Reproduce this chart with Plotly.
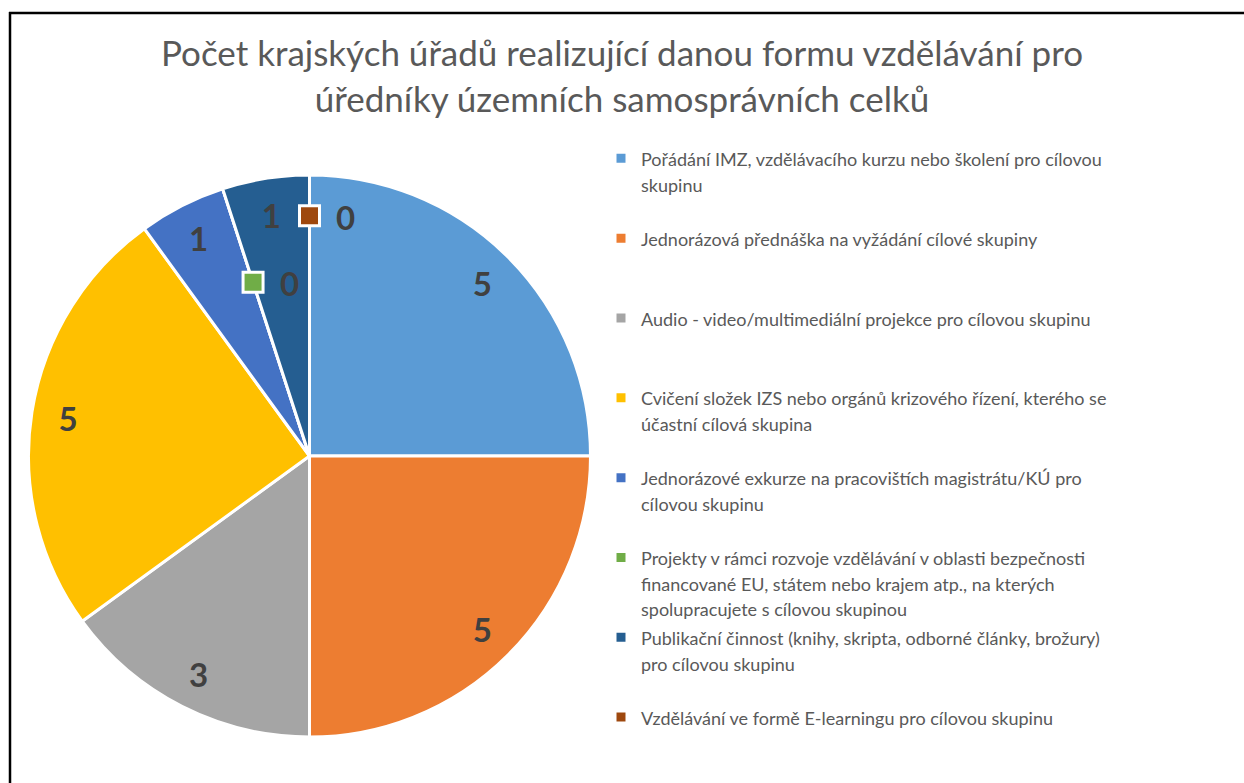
import math
import plotly.graph_objects as go

# ---------------- data ----------------
categories = [
    "Pořádání IMZ, vzdělávacího kurzu nebo školení pro cílovou skupinu",
    "Jednorázová přednáška na vyžádání cílové skupiny",
    "Audio - video/multimediální projekce pro cílovou skupinu",
    "Cvičení složek IZS nebo orgánů krizového řízení, kterého se účastní cílová skupina",
    "Jednorázové exkurze na pracovištích magistrátu/KÚ pro cílovou skupinu",
    "Projekty v rámci rozvoje vzdělávání v oblasti bezpečnosti financované EU, státem nebo krajem atp., na kterých spolupracujete s cílovou skupinou",
    "Publikační činnost (knihy, skripta, odborné články, brožury) pro cílovou skupinu",
    "Vzdělávání ve formě E-learningu pro cílovou skupinu",
]
legend_lines = [
    ["Pořádání IMZ, vzdělávacího kurzu nebo školení pro cílovou", "skupinu"],
    ["Jednorázová přednáška na vyžádání cílové skupiny"],
    ["Audio - video/multimediální projekce pro cílovou skupinu"],
    ["Cvičení složek IZS nebo orgánů krizového řízení, kterého se", "účastní cílová skupina"],
    ["Jednorázové exkurze na pracovištích magistrátu/KÚ pro", "cílovou skupinu"],
    ["Projekty v rámci rozvoje vzdělávání v oblasti bezpečnosti",
     "financované EU, státem nebo krajem atp., na kterých",
     "spolupracujete s cílovou skupinou"],
    ["Publikační činnost (knihy, skripta, odborné články, brožury)", "pro cílovou skupinu"],
    ["Vzdělávání ve formě E-learningu pro cílovou skupinu"],
]
values = [5, 5, 3, 5, 1, 0, 1, 0]
title_text = "Počet krajských úřadů realizující danou formu vzdělávání pro<br>úředníky územních samosprávních celků"

# ---------------- style ----------------
colors = ["#5B9BD5", "#ED7D31", "#A5A5A5", "#FFC000", "#4472C4", "#70AD47", "#255E91", "#9E480E"]
W, H = 1244, 783


def px_x(x):   # window pixel -> paper
    return x / W


def px_y(y):
    return 1 - y / H


PIE_CX, PIE_CY, PIE_R = 309.5, 456, 281   # window-pixel layout of the pie
FONT = "Lato, 'Open Sans', sans-serif"
TEXT_GRAY = "#595959"
LABEL_GRAY = "#404040"
LEGEND_LINES_PER_ITEM = 3
LEGEND_TEXT_SIZE = 18
zero_label_radius = {5: 0.65, 7: 0.855}   # radial placement of labels for empty slices

legend_labels = []
for k, lines in enumerate(legend_lines):
    n_pad = 0 if k == len(legend_lines) - 1 else LEGEND_LINES_PER_ITEM - len(lines)
    padded = lines + ["\u00a0"] * n_pad
    legend_labels.append("<br>".join(
        f"<span style='font-size:{LEGEND_TEXT_SIZE}px'>{ln}</span>" for ln in padded))

domain = dict(
    x=[px_x(PIE_CX - PIE_R), px_x(PIE_CX + PIE_R)],
    y=[px_y(PIE_CY + PIE_R), px_y(PIE_CY - PIE_R)],
)

fig = go.Figure()
fig.add_trace(go.Pie(
    labels=legend_labels,
    values=values,
    sort=False,
    direction="clockwise",
    rotation=0,
    domain=domain,
    marker=dict(colors=colors, line=dict(color="white", width=3)),
    textinfo="none",
    customdata=categories,
    hovertemplate="%{customdata}: %{value}<extra></extra>",
))
# label ring: transparent donut on the same domain so value labels sit near the rim
fig.add_trace(go.Pie(
    labels=legend_labels,
    values=values,
    sort=False,
    direction="clockwise",
    rotation=0,
    domain=domain,
    hole=0.74,
    showlegend=False,
    hoverinfo="skip",
    marker=dict(colors=["rgba(0,0,0,0)"] * len(values), line=dict(width=0)),
    textinfo="value",
    textposition="inside",
    insidetextorientation="horizontal",
    textfont=dict(family=FONT, size=33, color=LABEL_GRAY, weight="bold"),
))

# labels (with legend keys) for empty slices, placed at their angle from the data
total = sum(values)
shapes = []
annotations = []
cum = 0
for i, v in enumerate(values):
    if v == 0:
        ang = 2 * math.pi * cum / total
        f = zero_label_radius.get(i, 0.75)
        wx = PIE_CX + PIE_R * f * math.sin(ang)
        wy = PIE_CY - PIE_R * f * math.cos(ang)
        xa, ya = px_x(wx), px_y(wy)
        shapes.append(dict(
            type="rect", xref="paper", yref="paper",
            xsizemode="pixel", ysizemode="pixel",
            xanchor=xa, yanchor=ya, x0=-10, x1=10, y0=-10, y1=10,
            fillcolor=colors[i], line=dict(color="white", width=3), layer="above",
        ))
        annotations.append(dict(
            x=xa, y=ya, xref="paper", yref="paper",
            xanchor="center", yanchor="middle", xshift=36, yshift=-1,
            text=str(v), showarrow=False,
            font=dict(family=FONT, size=33, color=LABEL_GRAY, weight="bold"),
        ))
    cum += v

# outer chart border (only its left and top edges fall inside the picture)
border = dict(type="line", xref="paper", yref="paper", line=dict(color="black", width=2.5), layer="above")
shapes.append(dict(border, x0=px_x(10), x1=px_x(10), y0=-0.05, y1=px_y(12)))
shapes.append(dict(border, x0=px_x(9), x1=1.1, y0=px_y(13), y1=px_y(13)))

fig.update_layout(
    width=W, height=H,
    margin=dict(l=0, r=0, t=0, b=0),
    paper_bgcolor="white",
    plot_bgcolor="white",
    title=dict(
        text=title_text,
        x=px_x(622), xanchor="center",
        y=px_y(66), yanchor="top",
        font=dict(family=FONT, size=35, color=TEXT_GRAY),
    ),
    legend=dict(
        x=px_x(601), xanchor="left",
        y=px_y(139), yanchor="top",
        valign="top",
        font=dict(family=FONT, size=19.7, color=TEXT_GRAY),
        bgcolor="rgba(0,0,0,0)",
    ),
    shapes=shapes,
    annotations=annotations,
)

fig.write_html(
    "out.html",
    config={"displayModeBar": False},
    post_script="document.body.style.margin='0';document.body.style.overflow='hidden';",
)
